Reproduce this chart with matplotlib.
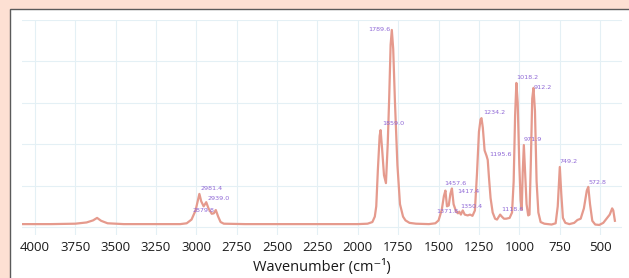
import matplotlib
matplotlib.use("Agg")
import matplotlib.pyplot as plt
from matplotlib.patches import Rectangle

# spectrum (wavenumber, absorbance in grid units)
wavenumber = [4075, 3900, 3750, 3680, 3640, 3615, 3590, 3550, 3450, 3100,
              3060, 3030, 3005, 2990, 2981.4, 2970, 2955, 2939, 2925, 2905,
              2892, 2879.8, 2865, 2850, 2830, 2700, 2300, 2000, 1940, 1910,
              1895, 1886, 1876, 1865, 1859, 1850, 1838, 1826, 1815, 1806,
              1797, 1789.6, 1781, 1770, 1755, 1739, 1720, 1705, 1680, 1640,
              1560, 1520, 1500, 1480, 1467, 1457.6, 1448, 1437, 1427, 1417.4,
              1407, 1392, 1380, 1371.8, 1362, 1350.4, 1338, 1320, 1305, 1290,
              1275, 1262, 1250, 1240, 1234.2, 1226, 1215, 1203, 1195.6, 1188,
              1178, 1165, 1150, 1138, 1128, 1118.6, 1108, 1095, 1082, 1060,
              1045, 1035, 1026, 1018.2, 1010, 1000, 992, 985, 979, 971.9,
              964, 955, 945, 937, 929, 920, 912.2, 903, 893, 882,
              868, 845, 800, 775, 762, 749.2, 740, 730, 715, 690,
              660, 640, 620, 600, 582, 572.8, 562, 548, 530, 505,
              480, 440, 425, 418, 408]
absorbance = [0.07, 0.07, 0.08, 0.11, 0.16, 0.22, 0.15, 0.09, 0.07, 0.07,
              0.09, 0.18, 0.4, 0.65, 0.8, 0.62, 0.5, 0.6, 0.45, 0.32,
              0.33, 0.41, 0.25, 0.12, 0.08, 0.07, 0.07, 0.07, 0.08, 0.12,
              0.25, 0.5, 1.38, 2.2, 2.34, 1.9, 1.25, 1.06, 2.0, 3.1,
              4.4, 4.76, 4.3, 3.0, 1.5, 0.55, 0.25, 0.16, 0.1, 0.08,
              0.07, 0.09, 0.16, 0.42, 0.75, 0.88, 0.5, 0.52, 0.8, 0.93,
              0.55, 0.38, 0.33, 0.37, 0.3, 0.4, 0.3, 0.28, 0.3, 0.27,
              0.4, 1.3, 2.3, 2.6, 2.63, 2.4, 1.85, 1.72, 1.62, 1.2,
              0.7, 0.35, 0.2, 0.18, 0.24, 0.3, 0.25, 0.2, 0.2, 0.22,
              0.35, 1.1, 2.7, 3.48, 3.0, 1.5, 0.65, 0.42, 1.3, 1.98,
              1.3, 0.55, 0.28, 0.3, 1.5, 3.1, 3.36, 2.8, 1.1, 0.35,
              0.12, 0.08, 0.06, 0.09, 0.5, 1.45, 0.8, 0.22, 0.1, 0.07,
              0.1, 0.17, 0.2, 0.45, 0.88, 0.97, 0.55, 0.15, 0.06, 0.05,
              0.1, 0.3, 0.45, 0.4, 0.15]

# labelled peaks: (label, offset in points, ha, va)
peak_labels = ["2981.4", "2939.0", "2879.8", "1859.0", "1789.6", "1457.6",
               "1417.4", "1371.8", "1350.4", "1234.2", "1195.6", "1118.6",
               "1018.2", "971.9", "912.2", "749.2", "572.8"]
label_offsets = [(1, 2), (1, 1), (-1, 0), (1, 3), (-1, 0), (-1, 3),
                 (4, -2), (-1, 0), (-2, 1), (1, 2), (1, 2), (1, 2),
                 (0, 2), (0, 2), (0, 0), (0, 2), (0, 1)]
label_align = [("left", "bottom"), ("left", "bottom"), ("right", "center"),
               ("left", "bottom"), ("right", "center"), ("left", "bottom"),
               ("left", "center"), ("right", "center"), ("left", "bottom"),
               ("left", "bottom"), ("left", "bottom"), ("left", "bottom"),
               ("left", "bottom"), ("left", "bottom"), ("left", "center"),
               ("left", "bottom"), ("left", "bottom")]

xticks = [4000, 3750, 3500, 3250, 3000, 2750, 2500, 2250, 2000, 1750, 1500, 1250, 1000, 750, 500]

fig = plt.figure(figsize=(6.29, 2.78), dpi=100)
fig.patch.set_facecolor('#fde0d3')
fig.add_artist(Rectangle((10 / 629, -0.1), 1.2, 0.9676 + 0.1, transform=fig.transFigure,
                         facecolor='white', edgecolor='#5a5a5a', lw=1.0, zorder=0))

ax = fig.add_axes([22 / 629, 1 - 235 / 278, 600 / 629, 215 / 278])
ax.set_facecolor('none')
ax.plot(wavenumber, absorbance, color='#e59a8d', lw=1.6, solid_joinstyle='round')

for lab, off, (ha, va) in zip(peak_labels, label_offsets, label_align):
    w = float(lab)
    i = min(range(len(wavenumber)), key=lambda k: abs(wavenumber[k] - w))
    ax.annotate(lab, (wavenumber[i], absorbance[i]), xytext=off, textcoords='offset points',
                ha=ha, va=va, fontsize=4.6, color='#8f68d6')

ax.set_xlim(4080, 364)
ax.set_ylim(-0.193, 5)
ax.set_xticks(xticks)
ax.set_xticklabels([str(t) for t in xticks], fontsize=9.5, family=['Open Sans', 'DejaVu Sans'], color='#1a1a1a')
ax.set_yticks([0, 1, 2, 3, 4, 5])
ax.set_yticklabels([])
ax.tick_params(length=0, pad=4)
ax.grid(True, color='#e4f0f5', lw=0.8)
for s in ax.spines.values():
    s.set_visible(False)
ax.set_xlabel('Wavenumber (cm⁻¹)', fontsize=10.5, family=['Open Sans', 'DejaVu Sans'],
              color='#1a1a1a', labelpad=4)

plt.savefig('out.png', dpi=100)
